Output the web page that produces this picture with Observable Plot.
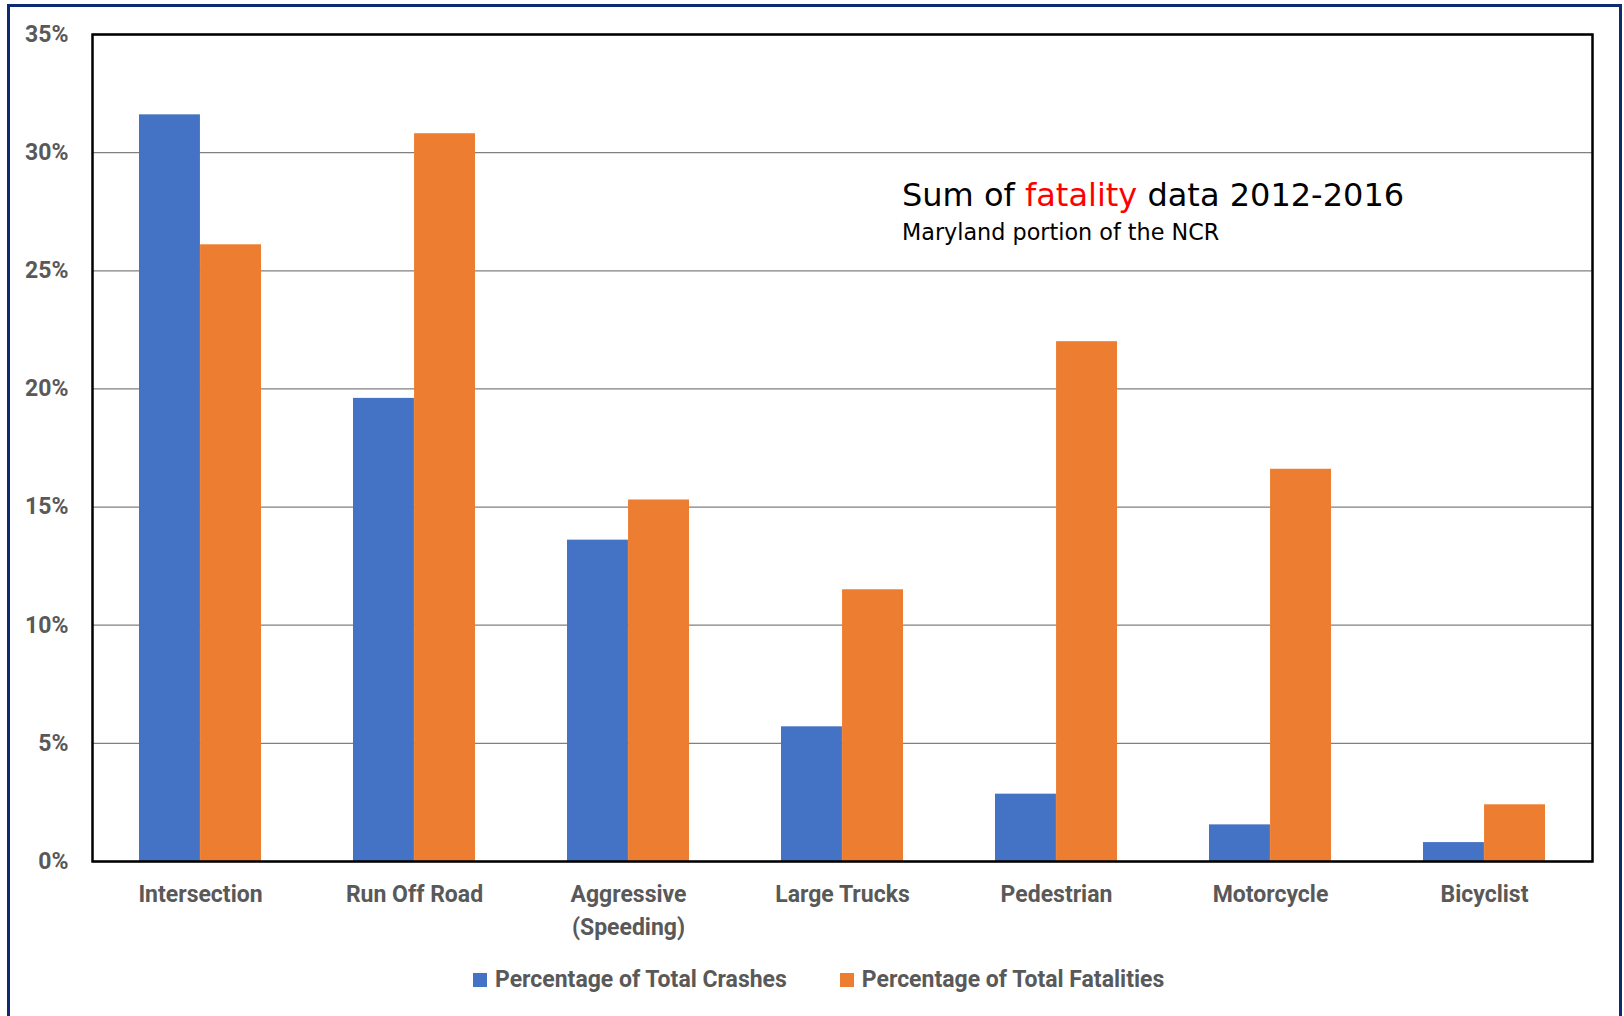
<!DOCTYPE html>
<html>
<head>
<meta charset="utf-8">
<script src="https://cdn.jsdelivr.net/npm/d3@7"></script>
<script src="https://cdn.jsdelivr.net/npm/@observablehq/plot@0.6"></script>
<style>
  html, body { margin: 0; padding: 0; background: #fff; }
  #wrap { position: relative; width: 1624px; height: 1016px; overflow: hidden; background: #fff; }
  #border { position: absolute; left: 7px; top: 4px; width: 1609px; height: 1100px; border: 3px solid #0f2b6f; box-sizing: content-box; pointer-events: none; }
  #chart { position: absolute; left: 0; top: 0; }
  #title { position: absolute; left: 902px; top: 179px; font-family: "DejaVu Sans", sans-serif; font-size: 32px; line-height: 32px; color: #000; white-space: nowrap; }
  #title .hl { color: #ff0000; }
  #subtitle { position: absolute; left: 902px; top: 221px; font-family: "DejaVu Sans", sans-serif; font-size: 22.3px; line-height: 22px; color: #000; white-space: nowrap; }
  #legend { position: absolute; left: 473px; top: 966px; display: flex; align-items: center; font-family: Roboto, sans-serif; font-weight: bold; font-size: 23px; color: #595959; white-space: nowrap; }
  #legend .item { display: flex; align-items: center; margin-right: 53px; }
  #legend .sw { width: 14px; height: 14px; margin-right: 8px; }
</style>
</head>
<body>
<div id="wrap">
  <div id="chart"></div>
  <div id="title">Sum of <span class="hl">fatality</span> data 2012-2016</div>
  <div id="subtitle">Maryland portion of the NCR</div>
  <div id="legend"></div>
  <div id="border"></div>
</div>
<script>
const categories = ["Intersection", "Run Off Road", "Aggressive\n(Speeding)", "Large Trucks", "Pedestrian", "Motorcycle", "Bicyclist"];
const crashes = [31.6, 19.6, 13.6, 5.7, 2.85, 1.55, 0.8];
const fatalities = [26.1, 30.8, 15.3, 11.5, 22.0, 16.6, 2.4];
const seriesNames = ["Percentage of Total Crashes", "Percentage of Total Fatalities"];
const seriesColors = ["#4472C4", "#ED7D31"];
const yTicks = [0, 5, 10, 15, 20, 25, 30, 35];

const table = categories.map((c, i) => ({category: c, crashes: crashes[i], fatalities: fatalities[i]}));

const W = 1624, H = 945, ML = 92, MR = 32, MT = 34, MB = 84;
const padInner = 0.43, padOuter = 0.215;
const step = (W - ML - MR) / (categories.length - padInner + 2 * padOuter);
const half = step * (1 - padInner) / 2;

const plot = Plot.plot({
  width: W,
  height: H,
  marginLeft: ML,
  marginRight: MR,
  marginTop: MT,
  marginBottom: MB,
  style: {fontFamily: "Roboto, sans-serif", fontWeight: "bold", fontSize: "23px", color: "#595959", background: "transparent"},
  x: {type: "band", domain: categories, paddingInner: padInner, paddingOuter: padOuter},
  y: {domain: [0, 35]},
  marks: [
    Plot.gridY(yTicks, {stroke: "#808080", strokeOpacity: 1, strokeWidth: 1.3}),
    Plot.barY(table, {x: "category", y: "crashes", fill: seriesColors[0], insetRight: half, insetLeft: 0}),
    Plot.barY(table, {x: "category", y: "fatalities", fill: seriesColors[1], insetLeft: half, insetRight: 0}),
    Plot.frame({stroke: "#000", strokeWidth: 2.5}),
    Plot.axisY(yTicks, {tickSize: 0, tickPadding: 24, tickFormat: d => d + "%", fontSize: 23, fill: "#595959", label: null}),
    Plot.axisX({tickSize: 0, tickPadding: 18, fontSize: 23, fill: "#595959", label: null, lineHeight: 1.4})
  ]
});
document.getElementById("chart").appendChild(plot);

const legend = d3.select("#legend");
seriesNames.forEach((name, i) => {
  const item = legend.append("div").attr("class", "item");
  item.append("div").attr("class", "sw").style("background", seriesColors[i]);
  item.append("span").text(name);
});
</script>
</body>
</html>
